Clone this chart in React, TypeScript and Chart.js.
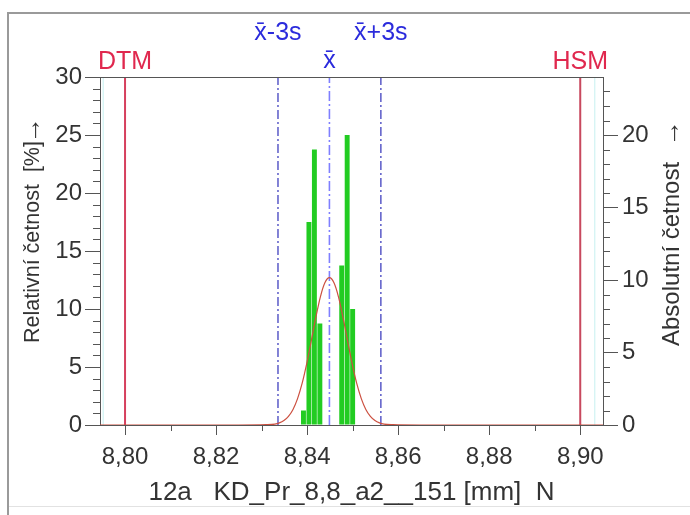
import React, { useEffect, useRef } from 'react';
import { Chart, registerables } from 'chart.js';

Chart.register(...registerables);

// ---- data ----
const binCenters = [8.8392, 8.8404, 8.8416, 8.8428, 8.8476, 8.8488, 8.85];
const binCounts = [1, 14, 19, 7, 11, 20, 8];
const sampleSize = 80;

const curveX = [
  8.7945, 8.8249, 8.8309, 8.8329, 8.8339, 8.8349, 8.8359, 8.8369, 8.8379, 8.8389, 8.8399,
  8.8409, 8.8419, 8.8429, 8.8439, 8.8449, 8.8459, 8.8469, 8.8479, 8.8489, 8.8499, 8.8509,
  8.8519, 8.8529, 8.8539, 8.8549, 8.8559, 8.8569, 8.8589, 8.8649, 8.905,
];
const curveY = [
  0, 0, 0.03, 0.08, 0.18, 0.38, 0.74, 1.34, 2.27, 3.58, 5.27,
  7.23, 9.25, 11.03, 12.26, 12.7, 12.26, 11.03, 9.25, 7.23, 5.27, 3.58,
  2.27, 1.34, 0.74, 0.38, 0.18, 0.08, 0.03, 0, 0,
];

const meanValue = 8.8449;
const lowerValue = 8.8336;
const upperValue = 8.8562;
const dtmValue = 8.8;
const hsmValue = 8.9;
const cyanLeftValue = 8.7952;
const cyanRightValue = 8.9032;

const xMin = 8.7945;
const xMax = 8.905;
const yLeftMax = 30;

const xTicks = [8.8, 8.82, 8.84, 8.86, 8.88, 8.9];
const xTickLabels = ['8,80', '8,82', '8,84', '8,86', '8,88', '8,90'];
const xMinorTicks = [8.81, 8.83, 8.85, 8.87, 8.89];
const yLeftTicks = [0, 5, 10, 15, 20, 25, 30];
const yRightTicks = [0, 5, 10, 15, 20];

const leftTitle = 'Relativní četnost  [%]';
const rightTitle = 'Absolutní četnost';
const titleArrow = '\u2192';
const bottomTitle = '12a   KD_Pr_8,8_a2__151 [mm]  N';

const FONT = "'Liberation Sans', Arial, sans-serif";

const overlayPlugin = {
  id: 'overlay',
  afterDraw(chart: any) {
    const { ctx, chartArea: a, scales } = chart;
    const x = scales.x;
    const y = scales.y;
    const y2 = scales.y2;
    ctx.save();
    // outer frame
    ctx.strokeStyle = '#9a9a9a';
    ctx.lineWidth = 2;
    ctx.beginPath();
    ctx.moveTo(8, 515);
    ctx.lineTo(8, 13);
    ctx.lineTo(690, 13);
    ctx.stroke();
    ctx.strokeStyle = '#e2e2e2';
    ctx.lineWidth = 1;
    ctx.beginPath();
    ctx.moveTo(9, 506.5);
    ctx.lineTo(690, 506.5);
    ctx.stroke();

    // top border of plot
    ctx.strokeStyle = '#555';
    ctx.lineWidth = 1;
    ctx.beginPath();
    ctx.moveTo(a.left - 15, Math.round(a.top) + 0.5);
    ctx.lineTo(a.right, Math.round(a.top) + 0.5);
    ctx.stroke();

    // minor ticks
    ctx.beginPath();
    for (let v = 1; v < yLeftMax; v++) {
      if (v % 5 === 0) continue;
      const py = Math.round(y.getPixelForValue(v)) + 0.5;
      ctx.moveTo(a.left - 7, py);
      ctx.lineTo(a.left, py);
    }
    for (let v = 1; v < y2.max; v++) {
      if (v % 5 === 0) continue;
      const py = Math.round(y2.getPixelForValue(v)) + 0.5;
      ctx.moveTo(a.right, py);
      ctx.lineTo(a.right + 7, py);
    }
    for (const v of xMinorTicks) {
      const px = Math.round(x.getPixelForValue(v)) + 0.5;
      ctx.moveTo(px, a.bottom);
      ctx.lineTo(px, a.bottom + 6);
    }
    ctx.stroke();

    // marker labels
    ctx.textAlign = 'center';
    ctx.textBaseline = 'middle';
    ctx.font = `25px ${FONT}`;
    ctx.fillStyle = '#e0284e';
    ctx.fillText('DTM', x.getPixelForValue(dtmValue), 62);
    ctx.fillText('HSM', x.getPixelForValue(hsmValue), 62);
    ctx.fillStyle = '#2b2bdc';
    ctx.fillText('x\u0304-3s', x.getPixelForValue(lowerValue), 33);
    ctx.fillText('x\u0304+3s', x.getPixelForValue(upperValue), 33);
    ctx.fillText('x\u0304', x.getPixelForValue(meanValue), 61);

    // axis titles (rotated, reading bottom to top)
    ctx.fillStyle = '#333';
    const vtitle = (cx: number, startY: number, endY: number, text: string, size: number) => {
      ctx.save();
      ctx.translate(cx, startY);
      ctx.rotate(-Math.PI / 2);
      ctx.font = `${size}px ${FONT}`;
      ctx.textAlign = 'left';
      ctx.fillText(text, 0, 0);
      ctx.font = `26px ${FONT}`;
      ctx.textAlign = 'right';
      ctx.fillText(titleArrow, startY - endY, 0);
      ctx.restore();
    };
    vtitle(33, 343, 117, leftTitle, 21.5);
    vtitle(672, 346, 120, rightTitle, 24);

    ctx.textAlign = 'center';
    ctx.font = `26px ${FONT}`;
    ctx.fillText(bottomTitle, (a.left + a.right) / 2, 493);
    ctx.restore();
  },
};

function vline(value: number, color: string, width: number, dash: number[], order: number) {
  return {
    type: 'line' as const,
    data: [
      { x: value, y: 0 },
      { x: value, y: yLeftMax },
    ],
    borderColor: color,
    borderWidth: width,
    borderDash: dash,
    pointRadius: 0,
    order,
    xAxisID: 'x',
    yAxisID: 'y',
  };
}

export default function App() {
  const ref = useRef<HTMLCanvasElement>(null);

  useEffect(() => {
    const canvas = ref.current;
    if (!canvas) return;
    const tickFont = { family: FONT, size: 24 };
    const pct = binCounts.map((c) => (c * 100) / sampleSize);
    const chart = new Chart(canvas, {
      type: 'bar',
      data: {
        datasets: [
          {
            type: 'line',
            data: curveX.map((xv, i) => ({ x: xv, y: curveY[i] })),
            borderColor: '#cc5040',
            borderWidth: 1.2,
            pointRadius: 0,
            cubicInterpolationMode: 'monotone',
            order: 0,
            xAxisID: 'x',
            yAxisID: 'y',
          },
          vline(meanValue, '#7f7fff', 1.6, [10, 3, 2, 3], 1),
          vline(lowerValue, '#5a5ac8', 1.5, [9, 3, 2, 3], 1),
          vline(upperValue, '#5a5ac8', 1.5, [9, 3, 2, 3], 1),
          vline(dtmValue, '#d6405e', 2, [], 1),
          vline(hsmValue, '#c8485e', 2, [], 1),
          vline(cyanLeftValue, '#c6f0f0', 1, [], 2),
          vline(cyanRightValue, '#c6f0f0', 1, [], 2),
          {
            type: 'bar',
            data: binCenters.map((xv, i) => ({ x: xv, y: pct[i] })),
            backgroundColor: '#22cc22',
            borderWidth: 0,
            barPercentage: 0.9,
            categoryPercentage: 1,
            order: 5,
            xAxisID: 'x',
            yAxisID: 'y',
          },
        ] as any,
      },
      options: {
        responsive: false,
        animation: false,
        devicePixelRatio: 1,
        layout: { padding: { top: 77, left: 0, right: 0, bottom: 0 } },
        plugins: { legend: { display: false }, tooltip: { enabled: false } },
        scales: {
          x: {
            type: 'linear',
            min: xMin,
            max: xMax,
            offset: false,
            afterBuildTicks: (s: any) => {
              s.ticks = xTicks.map((v) => ({ value: v }));
            },
            afterFit: (s: any) => {
              s.height = 90;
            },
            grid: { drawOnChartArea: false, offset: false, tickLength: 10, color: '#555', tickColor: '#555' },
            border: { display: true, color: '#555', width: 1 },
            ticks: {
              font: tickFont,
              color: '#333',
              padding: 8,
              maxRotation: 0,
              autoSkip: false,
              callback: (_v: any, i: number) => xTickLabels[i],
            },
          },
          y: {
            type: 'linear',
            position: 'left',
            min: 0,
            max: yLeftMax,
            afterBuildTicks: (s: any) => {
              s.ticks = yLeftTicks.map((v) => ({ value: v }));
            },
            afterFit: (s: any) => {
              s.width = 100;
            },
            grid: { drawOnChartArea: false, tickLength: 15, color: '#555', tickColor: '#555' },
            border: { display: true, color: '#555', width: 1 },
            ticks: { font: tickFont, color: '#333', padding: 3, callback: (v: any) => String(v) },
          },
          y2: {
            type: 'linear',
            position: 'right',
            min: 0,
            max: (yLeftMax * sampleSize) / 100,
            afterBuildTicks: (s: any) => {
              s.ticks = yRightTicks.map((v) => ({ value: v }));
            },
            afterFit: (s: any) => {
              s.width = 87;
            },
            grid: { drawOnChartArea: false, tickLength: 15, color: '#555', tickColor: '#555' },
            border: { display: true, color: '#555', width: 1 },
            ticks: { font: tickFont, color: '#333', padding: 4, callback: (v: any) => String(v) },
          },
        },
      } as any,
      plugins: [overlayPlugin],
    });
    return () => chart.destroy();
  }, []);

  return (
    <div style={{ position: 'absolute', left: 0, top: 0, width: 690, height: 515, background: '#fff' }}>
      <canvas ref={ref} width={690} height={515} style={{ display: 'block', width: 690, height: 515 }} />
    </div>
  );
}
